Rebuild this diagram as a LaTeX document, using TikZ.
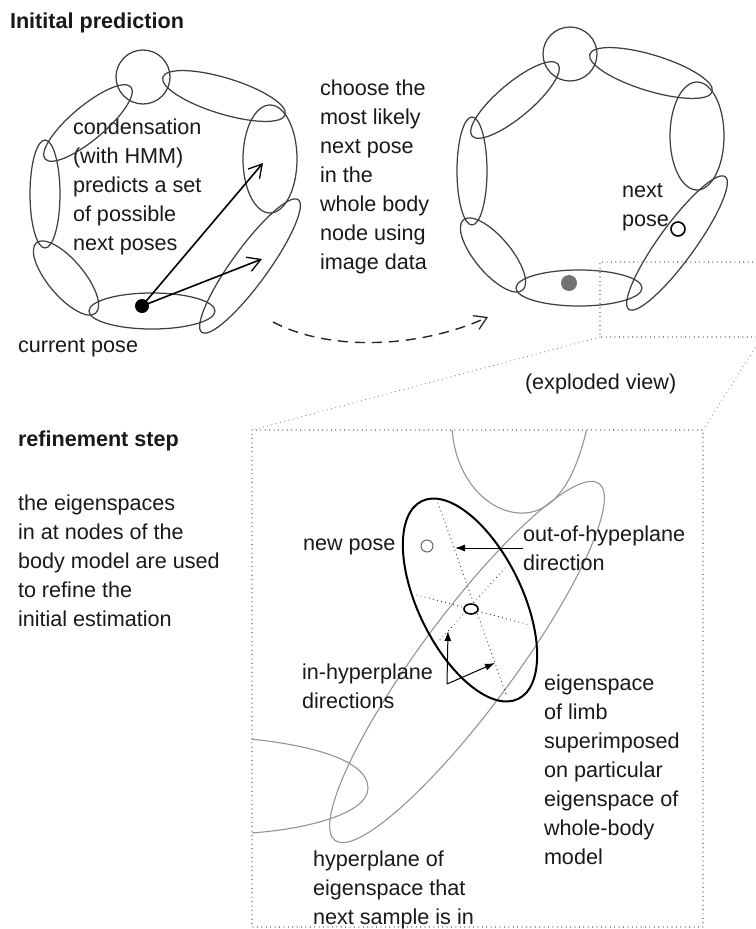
\documentclass[tikz,border=0pt]{standalone}
\usepackage{fontspec}
\setmainfont{Liberation Sans}
\usetikzlibrary{arrows.meta,shapes.geometric}
\newcommand{\drawbodyring}{%
  \draw[limb] (143,-77) circle [radius=27];
  \draw[limb,shift={(224,-96)},rotate=-17] (0,0) ellipse [x radius=64, y radius=18];
  \draw[limb] (270,-159) ellipse [x radius=27, y radius=54];
  \draw[limb,shift={(250,-266)},rotate=54] (0,0) ellipse [x radius=82, y radius=18];
  \draw[limb] (152,-311) ellipse [x radius=63, y radius=18];
  \draw[limb,shift={(66,-278)},rotate=-50] (0,0) ellipse [x radius=46, y radius=18];
  \draw[limb] (45,-194) ellipse [x radius=15, y radius=54];
  \draw[limb,shift={(88,-123)},rotate=40] (0,0) ellipse [x radius=56, y radius=17];
}
\begin{document}
\begin{tikzpicture}[x=1pt,y=1pt,
  every node/.style={inner sep=0pt, outer sep=0pt, font=\fontsize{21.6}{29}\selectfont, text=black!90},
  txt/.style={anchor=north west, align=left},
  ttl/.style={anchor=base west, font=\fontsize{21.6}{29}\selectfont\bfseries},
  limb/.style={draw=black!75, line width=1.25pt},
  bigarrow/.style={draw=black, line width=1.6pt, -{Straight Barb[length=13pt,width=15pt,line width=1.3pt]}},
  dasharrow/.style={draw=black!85, line width=1.4pt, dash pattern=on 10pt off 7pt, -{Straight Barb[length=12pt,width=15pt,line width=1.3pt]}},
  dotline/.style={draw=black!55, line width=1.1pt, dash pattern=on 0.01pt off 4.4pt, line cap=round},
  fineline/.style={draw=black!80, line width=1.2pt, dash pattern=on 0.01pt off 4.2pt, line cap=round},
  grayline/.style={draw=black!42, line width=1.1pt},
  smallarrow/.style={draw=black, line width=1pt, -{Latex[length=10pt,width=7pt]}}]
\useasboundingbox (0,0) rectangle (755,-929);

% ---------- titles and texts ----------
\node[ttl] (title1) at (10,-28) {Initital prediction};
\node[txt] (cond) at (73,-114) {\strut condensation\\(with HMM)\\predicts a set\\of possible\\next poses};
\node[txt] (choose) at (320,-75) {\strut choose the\\most likely\\next pose\\in the\\whole body\\node using\\image data};
\node[anchor=base west] (curpose) at (18,-352) {current pose};
\node[txt] (nextpose) at (622,-177) {\strut next\\pose};
\node[anchor=base west] (exploded) at (525,-389) {(exploded view)};
\node[ttl] (title2) at (18,-446) {refinement step};
\node[txt] (eigtext) at (18,-490) {\strut the eigenspaces\\in at nodes of the\\body model are used\\to refine the\\initial estimation};

% ---------- left body (initial prediction) ----------
\drawbodyring
\node[circle, fill=black, minimum size=14pt] (cur) at (142,-306) {};
\coordinate (t1) at (263,-163);
\coordinate (t2) at (262,-259);
\draw[bigarrow] (cur.center) -- (t1);
\draw[bigarrow] (cur.center) -- (t2);

% ---------- dashed transition ----------
\coordinate (d1) at (273,-322);
\coordinate (d2) at (488,-317);
\draw[dasharrow] (d1) .. controls (330,-352) and (420,-348) .. (d2);

% ---------- right body ----------
\begin{scope}[shift={(427,23)}]
  \drawbodyring
\end{scope}
\node[circle, fill=black!55, minimum size=16pt] (graydot) at (569,-283) {};
\node[circle, draw=black, line width=1.6pt, minimum size=14pt] (nextc) at (678,-229) {};

% ---------- exploded-view frames ----------
\coordinate (s1) at (757,-262);
\coordinate (s2) at (600,-262);
\coordinate (s3) at (600,-337);
\coordinate (s4) at (757,-337);
\coordinate (b1) at (252,-430);
\coordinate (b2) at (703,-430);
\coordinate (b3) at (703,-927);
\coordinate (b4) at (252,-927);
\coordinate (r1) at (760,-340);
\draw[dotline] (s1) -- (s2) -- (s3) -- (s4);
\draw[dotline] (s3) -- (b1);
\draw[dotline] (b2) -- (r1);
\draw[dotline] (b1) -- (b2) -- (b3) -- (b4) -- cycle;

% ---------- exploded view content ----------
\begin{scope}
  \clip (b1) rectangle (b3);
  \draw[grayline] (452,-428) .. controls (455,-480) and (490,-515) .. (525,-513)
                  .. controls (555,-511) and (575,-480) .. (587,-428);
  \draw[grayline] (250,-739) .. controls (310,-745) and (368,-760) .. (368,-788)
                  .. controls (368,-815) and (300,-830) .. (250,-833);
  \draw[grayline,shift={(467,-662)},rotate=53.5] (0,0) ellipse [x radius=222, y radius=47];
\end{scope}
\draw[black, line width=2pt,shift={(470,-600)},rotate=-64] (0,0) ellipse [x radius=110, y radius=52];
\draw[fineline] (438,-503) -- (507,-697);
\draw[fineline] (417,-595) -- (530,-625);
\draw[fineline] (505,-568) -- (440,-640);
\node[ellipse, draw=black, line width=1.6pt, fill=white, minimum width=14pt, minimum height=10pt] (center) at (471,-609) {};
\node[circle, draw=black!60, line width=1pt, minimum size=12pt] (newc) at (427,-546) {};

\node[anchor=base west] (newpose) at (303,-550) {new pose};
\node[txt] (outdir) at (523,-521) {\strut out-of-hypeplane\\direction};
\coordinate (o1) at (523,-548);
\coordinate (o2) at (455,-548);
\draw[smallarrow] (o1) -- (o2);

\node[txt] (indir) at (302,-659) {\strut in-hyperplane\\directions};
\coordinate (corner) at (447,-684);
\coordinate (up) at (448,-631);
\coordinate (rt) at (495,-663);
\draw[smallarrow] (corner) -- (up);
\draw[smallarrow] (corner) -- (rt);

\node[txt] (limbtext) at (544,-670) {\strut eigenspace\\of limb\\superimposed\\on particular\\eigenspace of\\whole-body\\model};
\node[txt] (hyptext) at (313,-846) {\strut hyperplane of\\eigenspace that\\next sample is in};
\end{tikzpicture}
\end{document}
